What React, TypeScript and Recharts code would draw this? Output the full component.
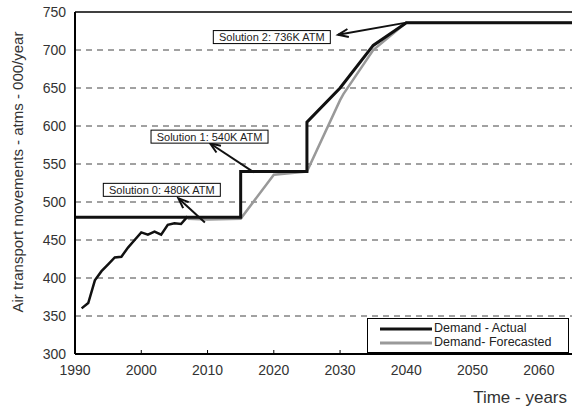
import { LineChart, Line, XAxis, YAxis, CartesianGrid, ReferenceLine, ReferenceDot, Legend } from 'recharts';

const FONT = '"Liberation Sans", Arial, sans-serif';

// historical demand (black curve)
const histYears = [1991, 1992, 1993, 1994, 1995, 1996, 1997, 1998, 1999, 2000, 2001, 2002, 2003, 2004, 2005, 2006, 2007];
const histValues = [360, 367, 397, 409, 418, 427, 428, 440, 450, 460, 457, 461, 457, 470, 472, 471, 481];

// capacity path - actual
const actualYears = [1990, 2015, 2015, 2025, 2025, 2030, 2035, 2040, 2065];
const actualValues = [480, 480, 540, 540, 605, 650, 706, 736, 736];

// capacity path - forecasted
const forecastYears = [2007, 2010, 2015, 2020, 2025, 2030, 2030.5, 2035, 2040, 2065];
const forecastValues = [478, 477, 478, 536, 540, 634, 642, 700, 736, 736];

const xTicks = [1990, 2000, 2010, 2020, 2030, 2040, 2050, 2060];
const yTicks = [300, 350, 400, 450, 500, 550, 600, 650, 700, 750];
const gridLevels = [350, 400, 450, 500, 550, 600, 650, 700];

// annotation boxes: label, box centre, arrow tail, arrow head (data units)
const notes = [
  { text: 'Solution 0: 480K ATM', x: 2003.1, y: 516, from: [2009.6, 473], to: [2005.6, 505] },
  { text: 'Solution 1: 540K ATM', x: 2010.3, y: 586, from: [2017.0, 539], to: [2010.4, 577] },
  { text: 'Solution 2: 736K ATM', x: 2019.7, y: 717, from: [2040, 736], to: [2029.7, 720] },
];

const hist = histYears.map((x, i) => ({ x, y: histValues[i] }));
const actual = actualYears.map((x, i) => ({ x, y: actualValues[i] }));
const forecast = forecastYears.map((x, i) => ({ x, y: forecastValues[i] }));

const PLOT_BOTTOM = 354;

const XTick = ({ x, payload }: any) => (
  <g>
    <line x1={x} x2={x} y1={PLOT_BOTTOM} y2={PLOT_BOTTOM - 4} stroke="#000" strokeWidth={1} />
    <text x={x} y={PLOT_BOTTOM + 21} textAnchor="middle" fontSize={14} fontFamily={FONT} fill="#333">
      {payload.value}
    </text>
  </g>
);

const YTick = ({ y, payload }: any) => (
  <text x={66} y={y + 5} textAnchor="end" fontSize={14} fontFamily={FONT} fill="#333">
    {payload.value}
  </text>
);

const NoteBox = ({ cx, cy, text }: any) => {
  const w = text.length * 5.75 + 2;
  return (
    <g>
      <rect x={cx - w / 2} y={cy - 6.5} width={w} height={13} fill="#fff" stroke="#000" strokeWidth={1} />
      <text x={cx} y={cy + 4} textAnchor="middle" fontSize={11} fontFamily={FONT} fill="#222">
        {text}
      </text>
    </g>
  );
};

const Arrow = ({ x1, y1, x2, y2 }: any) => {
  const ang = Math.atan2(y2 - y1, x2 - x1);
  const len = 11;
  const spread = 0.38;
  const a1 = [x2 - len * Math.cos(ang - spread), y2 - len * Math.sin(ang - spread)];
  const a2 = [x2 - len * Math.cos(ang + spread), y2 - len * Math.sin(ang + spread)];
  return (
    <g>
      <line x1={x1} y1={y1} x2={x2} y2={y2} stroke="#111" strokeWidth={2} />
      <polyline points={`${a1[0]},${a1[1]} ${x2},${y2} ${a2[0]},${a2[1]}`} fill="none" stroke="#111" strokeWidth={2} />
    </g>
  );
};

const LegendBox = () => (
  <div
    style={{
      position: 'absolute',
      left: 367,
      top: 318,
      width: 202,
      height: 35,
      border: '1.5px solid #000',
      background: '#fff',
      boxSizing: 'border-box',
      fontFamily: FONT,
      fontSize: 12.5,
      lineHeight: '13px',
      color: '#222',
    }}
  >
    <div style={{ position: 'absolute', left: 12, top: 3, height: 13, display: 'flex', alignItems: 'center', whiteSpace: 'nowrap' }}>
      <svg width={52} height={6}><line x1={0} x2={52} y1={3} y2={3} stroke="#111" strokeWidth={3} /></svg>
      <span style={{ marginLeft: 2 }}>Demand - Actual</span>
    </div>
    <div style={{ position: 'absolute', left: 12, top: 17, height: 13, display: 'flex', alignItems: 'center', whiteSpace: 'nowrap' }}>
      <svg width={52} height={6}><line x1={0} x2={52} y1={3} y2={3} stroke="#999" strokeWidth={3} /></svg>
      <span style={{ marginLeft: 2 }}>Demand- Forecasted</span>
    </div>
  </div>
);

const XLabel = () => (
  <text x={567} y={403} textAnchor="end" fontSize={17} fontFamily={FONT} fill="#333">
    Time - years
  </text>
);

const YLabel = () => (
  <text x={23} y={172} transform="rotate(-90 23 172)" textAnchor="middle" fontSize={15} fontFamily={FONT} fill="#333">
    Air transport movements - atms - 000/year
  </text>
);

export default function App() {
  return (
    <div style={{ position: 'absolute', left: 0, top: 0, width: 572, height: 409, overflow: 'hidden', background: '#fff' }}>
      <LineChart width={574} height={409} margin={{ top: 12, right: 2, left: 0, bottom: 25 }}>
        <CartesianGrid horizontal={false} vertical={false} />
        <XAxis
          type="number"
          dataKey="x"
          domain={[1990, 2065]}
          ticks={xTicks}
          allowDataOverflow
          height={30}
          tick={<XTick />}
          tickLine={false}
          axisLine={{ stroke: '#000', strokeWidth: 2 }}
          label={<XLabel />}
        />
        <YAxis
          type="number"
          dataKey="y"
          domain={[300, 750]}
          ticks={yTicks}
          allowDataOverflow
          width={75}
          tick={<YTick />}
          tickLine={false}
          axisLine={{ stroke: '#000', strokeWidth: 2 }}
          label={<YLabel />}
        />
        {gridLevels.map((v) => (
          <ReferenceLine key={v} y={v} stroke="#444" strokeWidth={1} strokeDasharray="6 5" />
        ))}
        <ReferenceLine y={750} stroke="#000" strokeWidth={1.5} />
        <Line data={forecast} dataKey="y" type="linear" stroke="#999" strokeWidth={2.5} dot={false} isAnimationActive={false} name="Demand- Forecasted" />
        <Line data={hist} dataKey="y" type="linear" stroke="#111" strokeWidth={2.5} dot={false} isAnimationActive={false} legendType="none" />
        <Line data={actual} dataKey="y" type="linear" stroke="#111" strokeWidth={3} dot={false} isAnimationActive={false} name="Demand - Actual" />
        {notes.map((n) => (
          <ReferenceLine
            key={n.text + '-arrow'}
            segment={[{ x: n.from[0], y: n.from[1] }, { x: n.to[0], y: n.to[1] }]}
            shape={(p: any) => <Arrow {...p} />}
          />
        ))}
        {notes.map((n) => (
          <ReferenceDot key={n.text} x={n.x} y={n.y} r={1} shape={(p: any) => <NoteBox {...p} text={n.text} />} />
        ))}
        <Legend content={() => <LegendBox />} wrapperStyle={{ position: 'absolute', left: 0, top: 0, width: 0, height: 0 }} />
      </LineChart>
    </div>
  );
}
